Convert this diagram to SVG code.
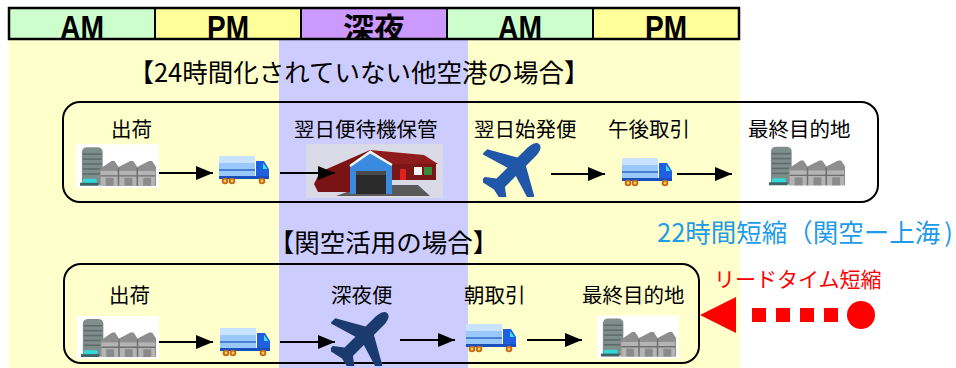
<svg xmlns="http://www.w3.org/2000/svg" xmlns:xlink="http://www.w3.org/1999/xlink" width="956" height="368" viewBox="0 0 956 368">
  <style>
    .hdr { font-family: "Liberation Sans", Arial, sans-serif; font-weight: bold; font-size: 33px; fill: #000; text-anchor: middle; }
    .hdrj { font-family: "Noto Sans CJK JP", sans-serif; font-weight: bold; font-size: 31px; fill: #000; text-anchor: middle; }
    .ttl { font-family: "Noto Sans CJK JP", sans-serif; font-size: 25.5px; fill: #000; text-anchor: middle; }
    .lbl { font-family: "Noto Sans CJK JP", sans-serif; font-size: 20.5px; fill: #000; }
    .box { fill: none; stroke: #000; stroke-width: 2; }
    .cell { stroke: #000; stroke-width: 2; }
    .arrow { stroke: #000; stroke-width: 2; fill: none; marker-end: url(#ah); }
  </style>
  <defs>
    <clipPath id="hdrClip"><rect x="9" y="8" width="730" height="31"/></clipPath>
    <marker id="ah" markerUnits="userSpaceOnUse" markerWidth="17" markerHeight="14" refX="17" refY="7" orient="auto">
      <path d="M0,0 L17,7 L0,14 Z" fill="#000"/>
    </marker>
    <!-- factory: office block with saw-tooth works and a small car -->
    <symbol id="factory" viewBox="0 0 84 44">
      <rect width="84" height="44" fill="#fff"/>
      <path d="M6,41 V8 Q6,3 12,3 H21 Q27,3 27,8 V41 Z" fill="#7E8E8B"/>
      <g stroke="#5D6B69" stroke-width="1.6">
        <line x1="7" y1="10" x2="26" y2="10"/>
        <line x1="7" y1="15" x2="26" y2="15"/>
        <line x1="7" y1="20" x2="26" y2="20"/>
        <line x1="7" y1="25" x2="26" y2="25"/>
        <line x1="7" y1="30" x2="26" y2="30"/>
      </g>
      <path d="M24,42 V25 L36,17 L39,17 L43,23 L55,17 L58,17 L62,23 L74,17 L77,17 L81,23 V42 Z" fill="#8E8E8E"/>
      <rect x="25" y="27" width="55" height="15" fill="#B4B4B4"/>
      <g stroke="#6E6E6E" stroke-width="1.5">
        <line x1="43" y1="24" x2="43" y2="42"/>
        <line x1="62" y1="24" x2="62" y2="42"/>
        <line x1="25" y1="32" x2="80" y2="32"/>
      </g>
      <g fill="#8A8A8A">
        <rect x="30" y="34" width="8" height="8"/>
        <rect x="49" y="34" width="8" height="8"/>
        <rect x="68" y="34" width="8" height="8"/>
      </g>
      <rect x="7" y="35" width="14" height="5" rx="1.5" fill="#33D8D8"/>
      <rect x="4" y="39" width="19" height="3" fill="#3E6464"/>
    </symbol>
    <!-- delivery truck -->
    <symbol id="truck" viewBox="0 0 52 30">
      <rect x="0" y="1" width="36" height="20" fill="#99C9FA"/>
      <rect x="0" y="1" width="36" height="7" fill="#C8E3FF"/>
      <rect x="0" y="14" width="36" height="2" fill="#4A7ED0"/>
      <path d="M37,6 H45 L50,14 V23 H37 Z" fill="#1F5FE0"/>
      <path d="M44,8 L48.5,14 H44 Z" fill="#33E4FF"/>
      <rect x="0" y="21" width="50" height="3" fill="#1A4FC0"/>
      <g fill="#C46A1C">
        <circle cx="6" cy="26" r="3.3"/>
        <circle cx="13" cy="26" r="3.3"/>
        <circle cx="43" cy="26" r="3.3"/>
      </g>
      <g fill="#FFD24A">
        <circle cx="6" cy="26" r="1.4"/>
        <circle cx="13" cy="26" r="1.4"/>
        <circle cx="43" cy="26" r="1.4"/>
      </g>
    </symbol>
    <!-- aeroplane silhouette, nose to the upper right -->
    <symbol id="plane" viewBox="6 6 48 48">
      <path transform="rotate(45 30 30)" d="M30,1 C34,1 35,7 35,12 L35,22 L58,35 L58,41 L35,34 L35,47 L43,53 L43,58 L30,55 L17,58 L17,53 L25,47 L25,34 L2,41 L2,35 L25,22 L25,12 C25,7 26,1 30,1 Z"/>
    </symbol>
  </defs>

  <!-- time-of-day bands -->
  <rect x="9" y="39" width="731" height="329" fill="#FFFFCC"/>
  <rect x="279" y="39" width="189" height="329" fill="#CCCCFF"/>

  <!-- header row -->
  <g id="header">
    <rect class="cell" x="9" y="8" width="146" height="31" fill="#CCFFCC"/>
    <rect class="cell" x="155" y="8" width="146" height="31" fill="#FFFF99"/>
    <rect class="cell" x="301" y="8" width="146" height="31" fill="#CC99FF"/>
    <rect class="cell" x="447" y="8" width="146" height="31" fill="#CCFFCC"/>
    <rect class="cell" x="593" y="8" width="146" height="31" fill="#FFFF99"/>
    <g clip-path="url(#hdrClip)">
      <text class="hdr" x="82" y="39" textLength="44" lengthAdjust="spacingAndGlyphs">AM</text>
      <text class="hdr" x="228" y="39" textLength="42" lengthAdjust="spacingAndGlyphs">PM</text>
      <text class="hdrj" x="374" y="40">深夜</text>
      <text class="hdr" x="520" y="39" textLength="44" lengthAdjust="spacingAndGlyphs">AM</text>
      <text class="hdr" x="666" y="39" textLength="42" lengthAdjust="spacingAndGlyphs">PM</text>
    </g>
    <rect x="9" y="8" width="730" height="31" fill="none" stroke="#000" stroke-width="2.5"/>
  </g>

  <!-- case 1: other airports -->
  <text class="ttl" x="359" y="82">【24時間化されていない他空港の場合】</text>
  <rect id="route1" class="box" x="63" y="102" width="815" height="100" rx="17"/>

  <g id="n1-ship">
    <text class="lbl" x="111" y="137">出荷</text>
    <use href="#factory" x="76" y="144" width="83" height="44"/>
  </g>
  <g id="n1-truck">
    <use href="#truck" x="219" y="155" width="52" height="30"/>
  </g>
  <g id="n1-store">
    <text class="lbl" x="294" y="137">翌日便待機保管</text>
    <g transform="translate(306,144)">
      <rect width="137" height="54" fill="#DADAE6"/>
      <path d="M30,52 L60,41 L112,41 L124,52 Z" fill="#5A5A5A"/>
      <path d="M8,40 L14,28 L64,6 L64,48 L12,48 Z" fill="#7A1414"/>
      <path d="M64,6 L118,11 L132,20 L86,21 Z" fill="#8E1C1C"/>
      <rect x="86" y="20" width="44" height="16" fill="#7A1616"/>
      <rect x="94" y="25" width="6" height="11" fill="#E02020"/>
      <rect x="108" y="23" width="8" height="8" fill="#F4F4F4"/>
      <rect x="118" y="23" width="8" height="8" fill="#3A8A3A"/>
      <path d="M44,22 L64,8 L86,21 L86,50 L44,50 Z" fill="#3A8AE0"/>
      <path d="M44,22 L64,8 L86,21" fill="none" stroke="#F4F4F4" stroke-width="2.5"/>
      <rect x="50" y="27" width="30" height="23" fill="#2A2A2A"/>
      <rect x="50" y="27" width="30" height="4" fill="#4A4A4A"/>
    </g>
  </g>
  <g id="n1-flight">
    <text class="lbl" x="474" y="137">翌日始発便</text>
    <use href="#plane" x="483" y="140" width="64" height="57" fill="#2157A8"/>
  </g>
  <g id="n1-pickup">
    <text class="lbl" x="608" y="137">午後取引</text>
    <use href="#truck" x="622" y="157" width="52" height="30"/>
  </g>
  <g id="n1-dest">
    <text class="lbl" x="748" y="137">最終目的地</text>
    <use href="#factory" x="765" y="143" width="83" height="45"/>
  </g>

  <!-- case 2: Kansai airport -->
  <text class="ttl" x="383.5" y="252">【関空活用の場合】</text>
  <rect id="route2" class="box" x="64" y="264" width="635" height="99" rx="17"/>

  <g id="n2-ship">
    <text class="lbl" x="109" y="303">出荷</text>
    <use href="#factory" x="77" y="315" width="82" height="45"/>
  </g>
  <g id="n2-truck">
    <use href="#truck" x="220" y="327" width="52" height="30"/>
  </g>
  <g id="n2-flight">
    <text class="lbl" x="331" y="303">深夜便</text>
    <use href="#plane" x="331" y="309" width="64" height="57" fill="#1B3B6E"/>
  </g>
  <g id="n2-pickup">
    <text class="lbl" x="464" y="303">朝取引</text>
    <use href="#truck" x="466" y="323" width="52" height="30"/>
  </g>
  <g id="n2-dest">
    <text class="lbl" x="582" y="303">最終目的地</text>
    <use href="#factory" x="597" y="315" width="82" height="44"/>
  </g>

  <!-- flow arrows -->
  <g id="connectors">
    <line class="arrow" x1="159" y1="173" x2="213" y2="173"/>
    <line class="arrow" x1="280" y1="173" x2="335" y2="173"/>
    <line class="arrow" x1="551" y1="174" x2="605" y2="174"/>
    <line class="arrow" x1="677" y1="174" x2="732" y2="174"/>
    <line class="arrow" x1="159" y1="342" x2="213" y2="342"/>
    <line class="arrow" x1="280" y1="342" x2="335" y2="342"/>
    <line class="arrow" x1="400" y1="340" x2="455" y2="340"/>
    <line class="arrow" x1="527" y1="340" x2="582" y2="340"/>
  </g>

  <!-- lead-time note -->
  <g id="note">
    <text x="657" y="242" font-family="Noto Sans CJK JP, sans-serif" font-size="25.5px" fill="#1F9BE8">22時間短縮（関空ー上海<tspan dx="4">)</tspan></text>
    <text x="714" y="287" font-family="Noto Sans CJK JP, sans-serif" font-size="21px" fill="#FF0000">リードタイム短縮</text>
    <path d="M700,315 L736,297 L736,333 Z" fill="#FF0000"/>
    <line x1="752" y1="315" x2="838" y2="315" stroke="#FF0000" stroke-width="14" stroke-dasharray="14 10"/>
    <circle cx="861" cy="315" r="14" fill="#FF0000"/>
  </g>
</svg>
